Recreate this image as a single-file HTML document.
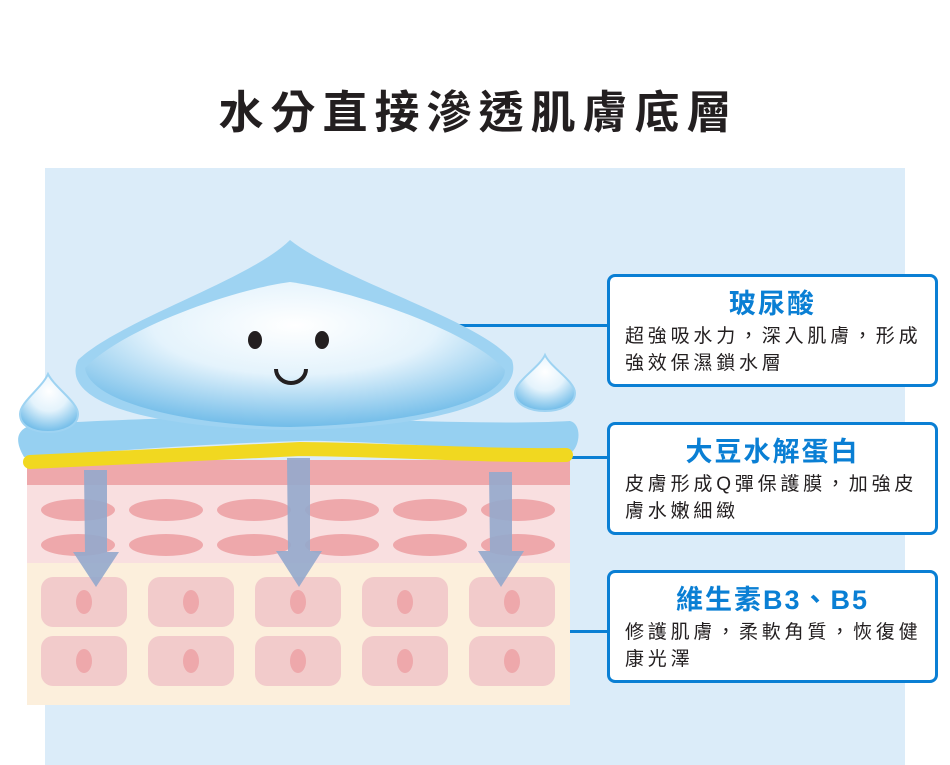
<!DOCTYPE html>
<html><head><meta charset="utf-8"><style>
*{margin:0;padding:0;box-sizing:border-box}
body{width:950px;height:765px;background:#fff;position:relative;overflow:hidden;font-family:"Liberation Sans","Noto Sans CJK TC",sans-serif}
.title{position:absolute;left:0;width:950px;top:84px;text-align:center;font-size:45px;font-weight:bold;color:#231f20;letter-spacing:7px;line-height:58px;padding-left:7px}
.panel{position:absolute;left:45px;top:168px;width:860px;height:597px;background:#dbecf9}
.box{position:absolute;left:607px;width:331px;height:113px;border:3px solid #0a7fd4;border-radius:8px;background:#fff}
.box h3{text-align:center;color:#0a7fd4;font-size:27px;font-weight:bold;letter-spacing:2px;margin-top:10px;line-height:34px}
.box p{margin-left:15px;margin-top:2px;font-size:19px;color:#231f20;letter-spacing:3.8px;line-height:27px}
.line{position:absolute;height:3px;background:#0a7fd4}
</style></head><body>
<div class="title">水分直接滲透肌膚底層</div>
<div class="panel"></div>
<div class="line" style="left:455px;top:324px;width:153px"></div>
<div class="line" style="left:570px;top:456px;width:38px"></div>
<div class="line" style="left:570px;top:630px;width:38px"></div>
<svg style="position:absolute;left:0;top:0" width="950" height="765">
<defs>
<radialGradient id="dg" cx="0.5" cy="0.3" r="0.75"><stop offset="0" stop-color="#fff"/><stop offset="0.45" stop-color="#e4f3fc"/><stop offset="1" stop-color="#62b5e6"/></radialGradient>
</defs>
<rect x="27" y="460" width="543" height="25" fill="#eea8ab"/>
<rect x="27" y="485" width="543" height="78" fill="#f9dfe0"/>
<rect x="27" y="563" width="543" height="142" fill="#fcefdc"/>
<g fill="#eea8ab">
<ellipse cx="78" cy="510" rx="37" ry="11"/><ellipse cx="166" cy="510" rx="37" ry="11"/><ellipse cx="254" cy="510" rx="37" ry="11"/><ellipse cx="342" cy="510" rx="37" ry="11"/><ellipse cx="430" cy="510" rx="37" ry="11"/><ellipse cx="518" cy="510" rx="37" ry="11"/>
<ellipse cx="78" cy="545" rx="37" ry="11"/><ellipse cx="166" cy="545" rx="37" ry="11"/><ellipse cx="254" cy="545" rx="37" ry="11"/><ellipse cx="342" cy="545" rx="37" ry="11"/><ellipse cx="430" cy="545" rx="37" ry="11"/><ellipse cx="518" cy="545" rx="37" ry="11"/>
</g>
<g fill="#f2cbcb">
<rect x="41" y="577" width="86" height="50" rx="12"/><rect x="148" y="577" width="86" height="50" rx="12"/><rect x="255" y="577" width="86" height="50" rx="12"/><rect x="362" y="577" width="86" height="50" rx="12"/><rect x="469" y="577" width="86" height="50" rx="12"/>
<rect x="41" y="636" width="86" height="50" rx="12"/><rect x="148" y="636" width="86" height="50" rx="12"/><rect x="255" y="636" width="86" height="50" rx="12"/><rect x="362" y="636" width="86" height="50" rx="12"/><rect x="469" y="636" width="86" height="50" rx="12"/>
</g>
<g fill="#eea8ab">
<ellipse cx="84" cy="602" rx="8" ry="12"/><ellipse cx="191" cy="602" rx="8" ry="12"/><ellipse cx="298" cy="602" rx="8" ry="12"/><ellipse cx="405" cy="602" rx="8" ry="12"/><ellipse cx="512" cy="602" rx="8" ry="12"/>
<ellipse cx="84" cy="661" rx="8" ry="12"/><ellipse cx="191" cy="661" rx="8" ry="12"/><ellipse cx="298" cy="661" rx="8" ry="12"/><ellipse cx="405" cy="661" rx="8" ry="12"/><ellipse cx="512" cy="661" rx="8" ry="12"/>
</g>
<path d="M24,457 C14,440 16,428 36,424 C150,418 250,415 300,418 C400,420 500,425 570,421 C582,424 580,445 572,452 C450,448 350,440 300,441 C200,444 100,452 24,457Z" fill="#96d0f1"/>
<path d="M30,462 C140,456 220,452 300,449 C400,450 480,456 566,455" fill="none" stroke="#f1d820" stroke-width="14" stroke-linecap="round"/>
<g fill="#94a8cc" opacity="0.9">
<path d="M84,470h23v82h12l-23,35l-23-35h12z"/>
<path d="M287,458h23v93h12l-23,36l-23-36h12z"/>
<path d="M489,472h23v79h12l-23,36l-23-36h12z"/>
</g>
<path d="M290,240 C250,280 120,320 78,360 C60,400 140,428 290,430 C440,428 525,400 512,360 C480,320 340,280 290,240Z" fill="#9ed3f2"/>
<path d="M290,282 C230,290 120,330 85,368 C90,405 200,426 290,427 C420,424 505,400 505,370 C470,330 350,290 290,282Z" fill="url(#dg)"/>
<ellipse cx="255" cy="340" rx="7" ry="9" fill="#231f20"/>
<ellipse cx="322" cy="340" rx="7" ry="9" fill="#231f20"/>
<path d="M276,369 a15,14 0 0 0 30,0" fill="none" stroke="#231f20" stroke-width="4"/>
<path d="M48,374 C42,388 20,402 20,414 C20,426 33,432 48,432 C63,432 78,426 78,414 C78,402 55,388 48,374Z" fill="url(#dg)" stroke="#9ed3f2" stroke-width="2"/>
<path d="M545,355 C539,368 515,381 515,393 C515,405 530,411 545,411 C560,411 575,405 575,393 C575,381 551,368 545,355Z" fill="url(#dg)" stroke="#9ed3f2" stroke-width="2"/>
</svg>
<div class="box" style="top:274px"><h3>玻尿酸</h3><p>超強吸水力，深入肌膚，形成<br>強效保濕鎖水層</p></div>
<div class="box" style="top:422px"><h3>大豆水解蛋白</h3><p>皮膚形成Q彈保護膜，加強皮<br>膚水嫩細緻</p></div>
<div class="box" style="top:570px"><h3>維生素B3、B5</h3><p>修護肌膚，柔軟角質，恢復健<br>康光澤</p></div>
</body></html>
